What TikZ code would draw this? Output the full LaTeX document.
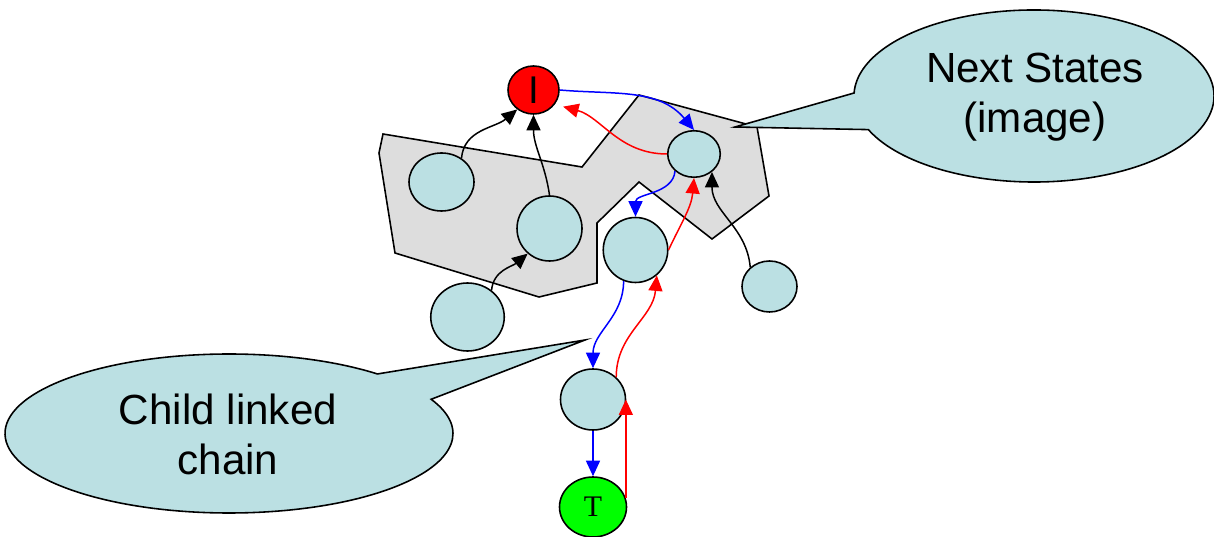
\documentclass[tikz,border=0pt]{standalone}
\usepackage{fontspec}
\setmainfont{Liberation Sans}
\newfontfamily\timesfont{Liberation Serif}
\usetikzlibrary{shapes,arrows.meta}
\definecolor{statefill}{RGB}{187,224,227}
\definecolor{setfill}{RGB}{221,221,221}
\tikzset{
  stnode/.style={ellipse,draw,fill=statefill,line width=0.9pt,inner sep=0pt},
  link/.style={line width=0.85pt,-{Triangle[length=0.31cm,width=0.28cm]}},
  bubble/.style={draw,fill=statefill,line width=0.9pt},
  bubbletext/.style={font=\fontsize{24}{28.5}\selectfont,align=center}
}
\begin{document}
\begin{tikzpicture}
\useasboundingbox(0,0)rectangle(24.28,10.74);
%image set
\draw[fill=setfill,line width=0.9pt](7.66,8.06)--(7.58,7.68)--(7.90,5.68)--(10.78,4.80)--(11.94,5.08)--(11.94,6.28)--(12.78,7.10)--(14.24,5.96)--(15.38,6.82)--(15.14,8.20)--(12.78,8.84)--(11.64,7.40)--cycle;
%callouts
\coordinate(nc)at(20.68,8.82);
\coordinate(ntip)at(14.70,8.20);
\draw[bubble](ntip)--([shift={(203:3.6cm and 1.72cm)}]nc)arc[start angle=203,end angle=538,x radius=3.6cm,y radius=1.72cm]--cycle;
\node[bubbletext](next)at(20.7,8.8){Next States\\(image)};
\coordinate(cc)at(4.58,2.07);
\coordinate(ctip)at(11.70,3.94);
\draw[bubble](ctip)--([shift={(48.5:4.48cm and 1.59cm)}]cc)arc[start angle=48.5,end angle=385.5,x radius=4.48cm,y radius=1.59cm]--cycle;
\node[bubbletext](chain)at(4.56,2.05){Child linked\\chain};
%states
\node[stnode,fill=red,minimum width=1.02cm,minimum height=0.96cm,font=\fontsize{22}{22}\selectfont](init)at(10.67,8.94){I};
\node[stnode,minimum width=1.3cm,minimum height=1.16cm](a)at(8.83,7.10){};
\node[stnode,minimum width=1.3cm,minimum height=1.3cm](b)at(10.99,6.17){};
\node[stnode,minimum width=1.05cm,minimum height=0.93cm](c)at(13.88,7.66){};
\node[stnode,minimum width=1.29cm,minimum height=1.3cm](d)at(12.71,5.74){};
\node[stnode,minimum width=1.1cm,minimum height=1.02cm](e)at(15.39,5.01){};
\node[stnode,minimum width=1.47cm,minimum height=1.36cm](f)at(9.35,4.40){};
\node[stnode,minimum width=1.3cm,minimum height=1.22cm](g)at(11.86,2.75){};
\node[stnode,fill=green,minimum width=1.34cm,minimum height=1.2cm,font=\timesfont\fontsize{17}{17}\selectfont](term)at(11.86,0.60){T};
%parent links
\draw[link](a.50)to[out=85,in=220](init.230);
\draw[link](b.north)to[out=98,in=-90](init.south);
\draw[link](f.48)to[out=85,in=220](b.229);
\draw[link](e.135)to[out=95,in=-90](c.-45);
%child chain
\draw[link,blue](init.east)to[out=-5,in=130](c.north);
\draw[link,blue](c.222)to[out=-95,in=90](d.north);
\draw[link,blue](d.249)to[out=-90,in=90](g.north);
\draw[link,blue](g.south)--(term.north);
%back links
\draw[link,red,shorten >=0.17cm](c.west)to[out=180,in=-15](init.-34);
\draw[link,red](d.east)to[out=65,in=-95](c.south);
\draw[link,red](g.44)to[out=90,in=-95](d.-50);
\draw[link,red](term.15)--(term.15|-g.east);
\end{tikzpicture}
\end{document}
